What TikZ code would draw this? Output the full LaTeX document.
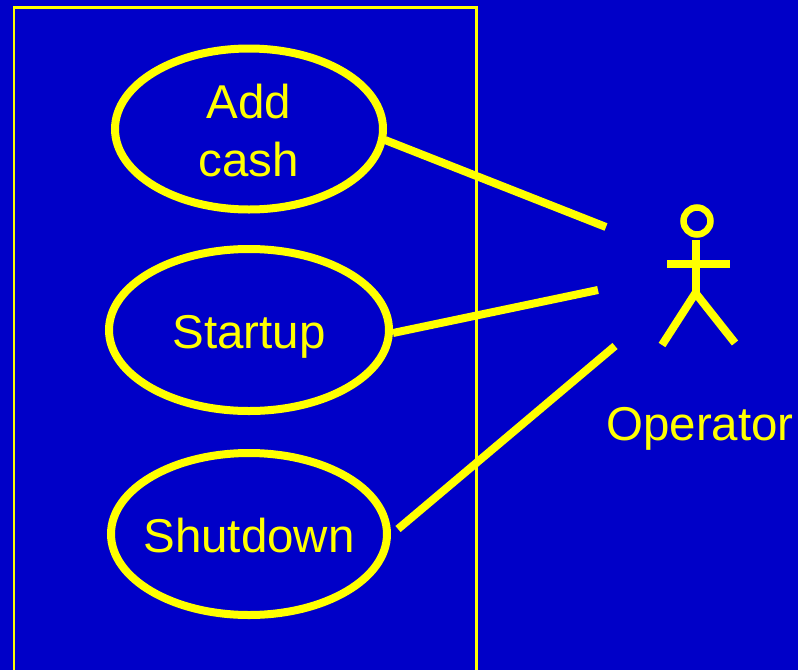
\documentclass[tikz,border=0pt]{standalone}
\usepackage{fontspec}
\setmainfont{Liberation Sans}
\usetikzlibrary{shapes.geometric}
\definecolor{bgblue}{HTML}{0000C8}
\definecolor{ink}{HTML}{FFFF00}
\tikzset{x=1pt,y=-1pt,
 usecase/.style={ellipse,draw=ink,line width=8pt,inner sep=0pt,text=ink,align=center,font=\fontsize{47.5}{58}\selectfont},
 assoc/.style={draw=ink,line width=8pt},
 stick/.style={draw=ink,line width=8pt},
 label/.style={text=ink,inner sep=0pt,font=\fontsize{47.5}{58}\selectfont}}
\begin{document}
\begin{tikzpicture}
\useasboundingbox (0,0) rectangle (798,670);
\fill[bgblue] (0,0) rectangle (798,670);
\draw[ink,line width=2.8pt] (14,670) -- (14,7.5) -- (476.5,7.5) -- (476.5,670);
\node[usecase,minimum width=268pt,minimum height=161pt,text height=94pt,text depth=0pt] (add) at (249,129) {Add\\cash};
\node[usecase,minimum width=280pt,minimum height=162pt,text height=36pt,text depth=0pt] (startup) at (249,330) {Startup};
\node[usecase,minimum width=276pt,minimum height=162pt,text height=36pt,text depth=0pt] (shutdown) at (249,534) {\makebox[0pt]{Shutdown}};
\coordinate (a1) at (606,227);
\coordinate (a2) at (598,290);
\coordinate (a3) at (615,346);
\coordinate (s1) at (385,140);
\coordinate (s2) at (393,333);
\coordinate (s3) at (398,529);
\draw[assoc] (s1) -- (a1);
\draw[assoc] (s2) -- (a2);
\draw[assoc] (s3) -- (a3);
\node[circle,draw=ink,line width=6.5pt,minimum size=27pt,inner sep=0pt] (head) at (697,221) {};
\coordinate (neck) at (695.5,240);
\coordinate (hip) at (695.5,293);
\coordinate (armL) at (667,264);
\coordinate (armR) at (730,264);
\coordinate (legL) at (662,345);
\coordinate (legR) at (735,343);
\draw[stick] (neck) -- (hip);
\draw[stick] (armL) -- (armR);
\draw[stick,line join=round] (legL) -- (hip) -- (legR);
\node[label] (op) at (700,429) {Operator};
\end{tikzpicture}
\end{document}
